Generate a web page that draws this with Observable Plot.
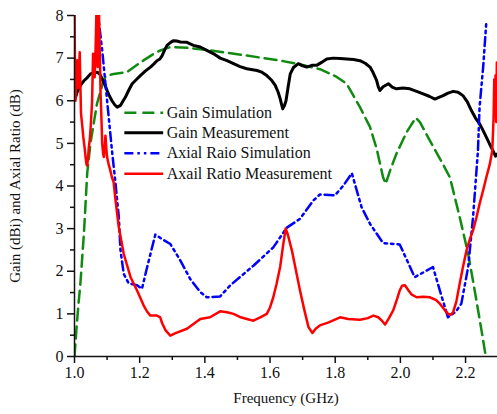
<!DOCTYPE html>
<html>
<head>
<meta charset="utf-8">
<script src="https://cdn.jsdelivr.net/npm/d3@7"></script>
<script src="https://cdn.jsdelivr.net/npm/@observablehq/plot@0.6"></script>
<style>
  html, body { margin: 0; padding: 0; background: #fff; }
  #chart svg { display: block; }
</style>
</head>
<body>
<div id="chart"></div>
<script>
// Frequency (GHz) / value pairs for each series
const gainSim = [
  [1.0,0],[1.006,0.65],[1.013,1.3],[1.018,1.7],[1.029,2.9],[1.039,4.3],[1.049,5.0],[1.059,5.47],
  [1.069,5.93],[1.085,6.36],[1.095,6.57],[1.12,6.63],[1.15,6.66],[1.161,6.67],[1.202,6.9],[1.243,7.1],
  [1.263,7.18],[1.294,7.26],[1.35,7.24],[1.417,7.18],[1.529,7.06],[1.64,6.93],[1.7,6.84],[1.753,6.74],
  [1.8,6.58],[1.835,6.4],[1.876,5.85],[1.907,5.38],[1.927,4.88],[1.947,4.2],[1.955,4.05],[1.97,4.4],
  [1.988,4.76],[2.019,5.26],[2.047,5.6],[2.06,5.5],[2.09,5.07],[2.13,4.52],[2.152,4.2],[2.182,3.27],
  [2.208,2.41],[2.228,1.55],[2.249,0.61],[2.262,0],[2.266,-0.3]
];

const gainMeas = [
  [1.002,6.05],[1.008,6.2],[1.013,6.28],[1.02,6.38],[1.029,6.47],[1.04,6.55],[1.049,6.63],[1.06,6.66],
  [1.07,6.67],[1.078,6.62],[1.085,6.51],[1.093,6.38],[1.1,6.24],[1.108,6.1],[1.115,6.0],[1.124,5.9],
  [1.131,5.85],[1.141,5.89],[1.148,5.98],[1.156,6.08],[1.166,6.24],[1.177,6.4],[1.19,6.5],[1.202,6.59],
  [1.218,6.7],[1.233,6.79],[1.243,6.86],[1.253,6.94],[1.262,6.98],[1.269,7.06],[1.277,7.2],[1.284,7.3],
  [1.295,7.37],[1.304,7.41],[1.314,7.4],[1.325,7.38],[1.345,7.37],[1.365,7.3],[1.386,7.26],[1.406,7.18],
  [1.427,7.1],[1.447,7.0],[1.468,6.94],[1.488,6.87],[1.508,6.8],[1.529,6.75],[1.56,6.71],[1.575,6.67],
  [1.59,6.59],[1.605,6.48],[1.616,6.36],[1.625,6.2],[1.631,6.05],[1.636,5.9],[1.639,5.81],[1.644,5.88],
  [1.649,6.0],[1.655,6.3],[1.662,6.63],[1.672,6.78],[1.687,6.87],[1.7,6.82],[1.713,6.79],[1.728,6.83],
  [1.743,6.83],[1.758,6.9],[1.774,6.98],[1.794,7.0],[1.815,6.99],[1.835,6.98],[1.856,6.97],[1.876,6.94],
  [1.892,6.88],[1.907,6.79],[1.917,6.65],[1.927,6.48],[1.932,6.33],[1.937,6.24],[1.947,6.33],[1.963,6.4],
  [1.975,6.32],[1.988,6.28],[2.008,6.3],[2.029,6.28],[2.05,6.22],[2.07,6.16],[2.09,6.1],[2.106,6.04],
  [2.118,6.08],[2.131,6.12],[2.146,6.18],[2.162,6.22],[2.177,6.2],[2.192,6.12],[2.205,5.98],[2.218,5.77],
  [2.23,5.6],[2.243,5.46],[2.254,5.3],[2.264,5.14],[2.274,4.98],[2.284,4.83],[2.292,4.7],[2.297,4.75]
];

const arSim = [
  [1.073,8.3],[1.075,7.84],[1.085,7.18],[1.095,6.4],[1.105,5.61],[1.115,4.83],[1.126,4.05],[1.136,3.27],
  [1.141,2.5],[1.151,1.94],[1.166,1.72],[1.192,1.67],[1.207,1.59],[1.223,2.1],[1.248,2.86],[1.27,2.75],
  [1.294,2.64],[1.325,2.25],[1.355,1.82],[1.386,1.51],[1.406,1.39],[1.447,1.41],[1.478,1.67],[1.549,2.13],
  [1.61,2.56],[1.651,3.02],[1.692,3.23],[1.733,3.66],[1.753,3.8],[1.799,3.78],[1.825,4.01],[1.851,4.3],
  [1.881,3.5],[1.907,3.11],[1.947,2.66],[1.998,2.63],[2.044,1.86],[2.1,2.1],[2.121,1.55],[2.146,0.92],
  [2.17,1.05],[2.187,1.24],[2.208,2.1],[2.223,3.27],[2.238,4.83],[2.243,5.85],[2.254,6.79],[2.264,7.88]
];

const arMeas = [
  [1.0,8.3],[1.001,7.2],[1.003,6.0],[1.006,6.8],[1.008,6.95],[1.011,6.3],[1.013,6.47],[1.016,7.14],
  [1.018,6.4],[1.02,5.7],[1.024,5.4],[1.027,5.15],[1.031,4.9],[1.034,4.68],[1.037,4.5],[1.039,4.48],
  [1.042,4.7],[1.044,4.91],[1.047,5.1],[1.049,5.3],[1.052,5.7],[1.054,6.0],[1.057,7.1],[1.06,6.8],
  [1.062,6.55],[1.065,7.3],[1.067,8.0],[1.069,7.2],[1.071,6.79],[1.073,7.6],[1.075,8.1],[1.078,7.0],
  [1.08,6.16],[1.083,5.5],[1.085,4.99],[1.088,4.75],[1.09,4.68],[1.093,4.95],[1.095,5.18],[1.098,4.85],
  [1.1,4.68],[1.105,4.5],[1.11,4.36],[1.115,4.2],[1.12,4.09],[1.126,3.66],[1.136,3.03],[1.151,2.41],
  [1.172,1.86],[1.192,1.55],[1.212,1.2],[1.223,1.05],[1.233,0.96],[1.243,0.96],[1.253,0.96],[1.263,0.92],
  [1.269,0.78],[1.279,0.62],[1.294,0.49],[1.31,0.55],[1.345,0.65],[1.386,0.88],[1.416,0.92],[1.447,1.06],
  [1.468,1.04],[1.488,1.0],[1.51,0.92],[1.529,0.88],[1.549,0.84],[1.57,0.92],[1.59,1.0],[1.6,1.15],
  [1.61,1.39],[1.62,1.7],[1.631,2.1],[1.64,2.6],[1.648,3.0],[1.655,2.85],[1.667,2.49],[1.68,2.0],
  [1.692,1.55],[1.705,1.1],[1.718,0.69],[1.73,0.55],[1.74,0.65],[1.753,0.73],[1.78,0.8],[1.815,0.92],
  [1.84,0.88],[1.876,0.86],[1.9,0.9],[1.917,0.96],[1.932,0.92],[1.942,0.85],[1.953,0.75],[1.965,0.9],
  [1.978,1.08],[1.99,1.35],[1.998,1.55],[2.005,1.66],[2.014,1.67],[2.025,1.55],[2.035,1.45],[2.05,1.39],
  [2.07,1.4],[2.09,1.39],[2.11,1.32],[2.121,1.24],[2.135,1.1],[2.146,1.0],[2.155,0.98],[2.162,1.04],
  [2.172,1.3],[2.182,1.71],[2.192,2.1],[2.203,2.49],[2.213,2.75],[2.223,2.96],[2.233,3.25],[2.243,3.58],
  [2.254,3.9],[2.264,4.21],[2.274,4.5],[2.282,4.83],[2.286,5.6],[2.288,6.5],[2.29,5.9],[2.292,6.6],
  [2.294,5.5],[2.296,6.9]
];

// Tick values
const xMajor = [1.0, 1.2, 1.4, 1.6, 1.8, 2.0, 2.2];
const xMinor = [1.1, 1.3, 1.5, 1.7, 1.9, 2.1];
const yMajor = [0, 1, 2, 3, 4, 5, 6, 7, 8];
const yMinor = [0.5, 1.5, 2.5, 3.5, 4.5, 5.5, 6.5, 7.5];

// Legend entries
const seriesNames = ["Gain Simulation", "Gain Measurement", "Axial Raio Simulation", "Axail Ratio Measurement"];

const styles = [
  {stroke: "#118a11", strokeWidth: 2.5, strokeDasharray: "12,6"},
  {stroke: "#000000", strokeWidth: 3},
  {stroke: "#0000ff", strokeWidth: 2.5, strokeDasharray: "9,4,2.5,4,2.5,4"},
  {stroke: "#ff0000", strokeWidth: 2.5}
];
const seriesData = [gainSim, gainMeas, arSim, arMeas];

// legend placement in chart units
const legendRowY = [5.72, 5.25, 4.77, 4.29];
const legendX1 = 1.153, legendX2 = 1.272, legendTextX = 1.283;

const font = "'Liberation Serif', 'Times New Roman', serif";

const lineMarks = seriesData.map((data, i) =>
  Plot.line(data, {x: d => d[0], y: d => d[1], clip: true, curve: "linear", ...styles[i]})
);

const legendMarks = seriesNames.flatMap((name, i) => [
  Plot.link([name], {x1: legendX1, x2: legendX2, y1: legendRowY[i], y2: legendRowY[i], ...styles[i]}),
  Plot.text([name], {x: legendTextX, y: legendRowY[i], text: d => d, textAnchor: "start", fontSize: 16, fill: "#111"})
]);

const chart = Plot.plot({
  width: 497,
  height: 414,
  marginLeft: 74,
  marginRight: 0,
  marginTop: 15,
  marginBottom: 58,
  x: {domain: [1.0, 2.298]},
  y: {domain: [0, 8]},
  style: {fontFamily: font, fontSize: "16px", color: "#111", background: "#fff"},
  marks: [
    Plot.axisX(xMajor, {tickSize: 7, tickPadding: 3, tickFormat: d3.format(".1f"), label: null, fontSize: 16, strokeWidth: 1.5}),
    Plot.axisX(xMinor, {tickSize: 4, tickFormat: () => "", label: null, strokeWidth: 1.5}),
    Plot.axisY(yMajor, {tickSize: 7, tickPadding: 4, tickFormat: d3.format("d"), label: null, fontSize: 16, strokeWidth: 1.5}),
    Plot.axisY(yMinor, {tickSize: 4, tickFormat: () => "", label: null, strokeWidth: 1.5}),
    ...lineMarks,
    Plot.ruleY([0], {strokeWidth: 1.5}),
    Plot.ruleX([1.0], {strokeWidth: 1.5}),
    ...legendMarks,
    Plot.text(["Frequency (GHz)"], {frameAnchor: "bottom", dy: 42, lineAnchor: "middle", textAnchor: "middle", text: d => d, fontSize: 15, fill: "#111"}),
    Plot.text(["Gain (dBi) and Axial Ratio (dB)"], {frameAnchor: "left", dx: -59, rotate: -90, textAnchor: "middle", lineAnchor: "middle", text: d => d, fontSize: 15, fill: "#111"})
  ]
});

document.getElementById("chart").appendChild(chart);
</script>
</body>
</html>
